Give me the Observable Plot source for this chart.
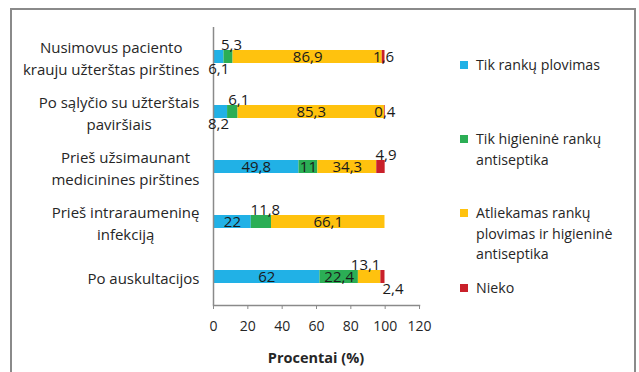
<!DOCTYPE html>
<html><head><meta charset="utf-8">
<script src="https://cdn.jsdelivr.net/npm/d3@7"></script>
<script src="https://cdn.jsdelivr.net/npm/@observablehq/plot@0.6"></script>
<style>
body{margin:0;background:#fff;font-family:"Open Sans",sans-serif;}
#wrap{position:relative;width:639px;height:372px;overflow:hidden;background:#fff;}
#frame{position:absolute;left:10px;top:8px;width:622px;height:400px;border:2px solid #8a8a8a;border-bottom:none;pointer-events:none;}
#chart{position:absolute;left:0;top:0;}
.leg{position:absolute;left:476px;font:14.2px "Open Sans",sans-serif;color:#262626;line-height:20.5px;white-space:nowrap;}
.sw{position:absolute;left:-16px;top:6px;width:8px;height:8px;}
#xtitle{position:absolute;left:216px;width:200px;text-align:center;top:348px;font:bold 14.5px "Open Sans",sans-serif;color:#262626;}
</style></head>
<body>
<div id="wrap"><div id="chart"></div><div id="frame"></div><div id="legend"></div><div id="xtitle">Procentai (%)</div></div>
<script>
// ---- data ----
const categories = [
  "Nusimovus paciento\nkrauju užterštas pirštines",
  "Po sąlyčio su užterštais\npaviršiais",
  "Prieš užsimaunant\nmedicinines pirštines",
  "Prieš intraraumeninę\ninfekciją",
  "Po auskultacijos"
];
const seriesNames = [
  "Tik rankų plovimas",
  "Tik higieninė rankų antiseptika",
  "Atliekamas rankų plovimas ir higieninė antiseptika",
  "Nieko"
];
const tikPlovimas    = [6.1, 8.2, 49.8, 22, 62];
const tikAntiseptika = [5.3, 6.1, 11, 11.8, 22.4];
const abu            = [86.9, 85.3, 34.3, 66.1, 13.1];
const nieko          = [1.6, 0.4, 4.9, 0, 2.4];
const xTicks = [0, 20, 40, 60, 80, 100, 120];
const legendLines = [
  ["Tik rankų plovimas"],
  ["Tik higieninė rankų", "antiseptika"],
  ["Atliekamas rankų", "plovimas ir higieninė", "antiseptika"],
  ["Nieko"]
];

// ---- styles ----
const colors = ["#21B1E6", "#2BAE55", "#FFC20E", "#C9202A"];
// label placement per series/category: c = centre, a = above, b = below
const placement = [
  ["b","b","c","c","c"],
  ["a","a","c","a","c"],
  ["c","c","c","c","a"],
  ["c","c","a","c","b"]
];
const nudge = [
  [0,-2,0,0,0],
  [3,6,0,4,0],
  [0,0,0,0,-4],
  [0,0,5,0,10]
];
const dyFor = {c: 0, a: -12, b: 12};

const seriesValues = [tikPlovimas, tikAntiseptika, abu, nieko];
const data = [];
seriesValues.forEach((vals, s) => vals.forEach((v, i) => data.push({
  cat: categories[i], series: seriesNames[s], value: v,
  place: placement[s][i], dx: nudge[s][i]
})));
const fmt = v => String(v).replace(".", ",");

const combos = Array.from(new Set(data.filter(d => d.value > 0).map(d => d.place + "|" + d.dx)));
const labelMarks = combos.map(key => {
  const [p, dx] = key.split("|");
  return Plot.text(data, Plot.filter(d => d.value > 0 && d.place === p && d.dx === +dx,
    Plot.stackX({x: "value", y: "cat", z: "series", text: d => fmt(d.value),
      dx: +dx, dy: dyFor[p], fill: "#1a1a1a", fontSize: 15})));
});

const chart = Plot.plot({
  width: 639, height: 372,
  marginLeft: 213, marginRight: 220, marginTop: 27, marginBottom: 67,
  style: {fontFamily: "'Open Sans', sans-serif", color: "#262626", background: "transparent"},
  x: {domain: [0, 120]},
  y: {domain: categories, paddingInner: 0.766, paddingOuter: 0.383},
  color: {domain: seriesNames, range: colors},
  marks: [
    Plot.barX(data, Plot.stackX({x: "value", y: "cat", z: "series", fill: "series"})),
    Plot.ruleX([0], {stroke: "#8a8a8a", strokeWidth: 1.5}),
    Plot.frame({anchor: "bottom", stroke: "#8a8a8a", strokeWidth: 1.5}),
    Plot.axisX({ticks: xTicks, tickSize: 4, tickPadding: 12, fontSize: 14, label: null, stroke: "#8a8a8a"}),
    Plot.axisY({tickSize: 0, tickPadding: 14, fontSize: 15, lineHeight: 1.47, label: null}),
    ...labelMarks
  ]
});
document.getElementById("chart").appendChild(chart);

// centre multi-line y labels within their right-aligned block
chart.querySelectorAll('g[aria-label="y-axis tick label"] text').forEach(t => {
  const spans = t.querySelectorAll("tspan");
  if (!spans.length) return;
  let W = 0;
  spans.forEach(s => W = Math.max(W, s.getComputedTextLength()));
  t.setAttribute("text-anchor", "middle");
  spans.forEach(s => s.setAttribute("x", -W / 2));
});

// legend
const legendTops = [55, 129, 203, 278];
const legend = document.getElementById("legend");
legendLines.forEach((lines, i) => {
  const div = document.createElement("div");
  div.className = "leg";
  div.style.top = legendTops[i] + "px";
  div.innerHTML = `<span class="sw" style="background:${colors[i]}"></span>` + lines.join("<br>");
  legend.appendChild(div);
});
</script>
</body></html>
